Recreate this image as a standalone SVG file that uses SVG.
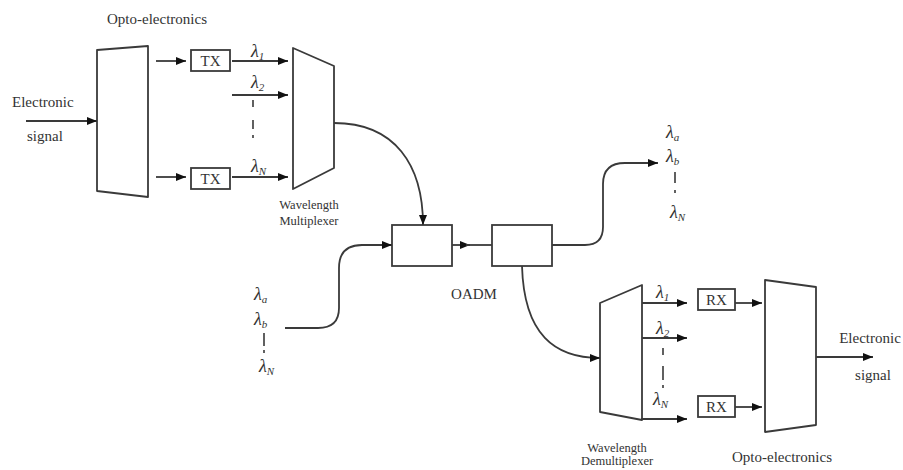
<svg xmlns="http://www.w3.org/2000/svg" width="903" height="470" viewBox="0 0 903 470">
<style>
  .shape { fill: none; stroke: #3a3a3a; stroke-width: 1.8; stroke-linejoin: round; }
  .box { fill: #fff; stroke: #3a3a3a; stroke-width: 1.8; }
  .con { fill: none; stroke: #3a3a3a; stroke-width: 1.8; }
  .dots { fill: none; stroke: #3a3a3a; stroke-width: 1.6; }
  .lbl { font-family: "Liberation Serif", "Times New Roman", serif; font-size: 15px; fill: #333; }
  .sm { font-family: "Liberation Serif", "Times New Roman", serif; font-size: 12.5px; fill: #333; }
  .lam { font-family: "Liberation Serif", "Times New Roman", serif; font-size: 18px; font-style: italic; fill: #333; }
  .sub { font-size: 11px; }
</style>
<defs>
  <marker id="arr" viewBox="0 0 10 8" refX="10" refY="4" markerWidth="10" markerHeight="8" markerUnits="userSpaceOnUse" orient="auto">
    <path d="M0,0 L10,4 L0,8 Z" fill="#111"/>
  </marker>
</defs>

<!-- Nodes -->
<g id="opto-tx">
  <polygon class="shape" points="97,50 148,46 148,197 97,191"/>
  <text class="lbl" x="157" y="24" text-anchor="middle">Opto-electronics</text>
</g>
<g id="tx1">
  <rect class="box" x="191" y="50" width="39" height="21"/>
  <text class="lbl" x="210.5" y="66" text-anchor="middle">TX</text>
</g>
<g id="tx2">
  <rect class="box" x="191" y="168" width="39" height="21"/>
  <text class="lbl" x="210.5" y="184" text-anchor="middle">TX</text>
</g>
<g id="mux">
  <polygon class="shape" points="293,48 334,66 334,168 293,189"/>
  <text class="sm" x="309" y="209" text-anchor="middle">Wavelength</text>
  <text class="sm" x="309" y="225" text-anchor="middle">Multiplexer</text>
</g>
<g id="oadm1">
  <rect class="box" x="392" y="225" width="60" height="41"/>
</g>
<g id="oadm2">
  <rect class="box" x="492" y="225" width="60" height="41"/>
  <text class="lbl" x="474" y="299" text-anchor="middle">OADM</text>
</g>
<g id="demux">
  <polygon class="shape" points="600,303 642,285 642,420 600,412"/>
  <text class="sm" x="617" y="452" text-anchor="middle">Wavelength</text>
  <text class="sm" x="617" y="465" text-anchor="middle">Demultiplexer</text>
</g>
<g id="rx1">
  <rect class="box" x="698" y="289" width="37" height="21"/>
  <text class="lbl" x="716.5" y="305" text-anchor="middle">RX</text>
</g>
<g id="rx2">
  <rect class="box" x="698" y="396" width="37" height="21"/>
  <text class="lbl" x="716.5" y="412" text-anchor="middle">RX</text>
</g>
<g id="opto-rx">
  <polygon class="shape" points="765,280 816,287 816,425 765,432"/>
  <text class="lbl" x="782" y="462" text-anchor="middle">Opto-electronics</text>
</g>

<!-- Connectors -->
<g id="connectors">
  <line class="con" x1="26" y1="121" x2="97" y2="121" marker-end="url(#arr)"/>
  <line class="con" x1="156" y1="61" x2="186" y2="61" marker-end="url(#arr)"/>
  <line class="con" x1="156" y1="177" x2="186" y2="177" marker-end="url(#arr)"/>
  <line class="con" x1="232" y1="61" x2="288" y2="61" marker-end="url(#arr)"/>
  <line class="con" x1="232" y1="95" x2="288" y2="95" marker-end="url(#arr)"/>
  <line class="con" x1="232" y1="177" x2="288" y2="177" marker-end="url(#arr)"/>
  <path class="con" d="M334,123 C395,123 423,165 423,225" marker-end="url(#arr)"/>
  <path class="con" d="M285,328 L318,328 Q339,328 339,308 L339,268 Q339,245 362,245 L392,245" marker-end="url(#arr)"/>
  <line class="con" x1="452" y1="245" x2="470" y2="245" marker-end="url(#arr)"/>
  <line class="con" x1="466" y1="245" x2="492" y2="245"/>
  <path class="con" d="M552,245 L585,245 Q603,245 603,227 L603,184 Q603,163 625,163 L658,163" marker-end="url(#arr)"/>
  <path class="con" d="M522,266 C524,335 555,358 600,358" marker-end="url(#arr)"/>
  <line class="con" x1="642" y1="303" x2="687" y2="303" marker-end="url(#arr)"/>
  <line class="con" x1="642" y1="338" x2="687" y2="338" marker-end="url(#arr)"/>
  <line class="con" x1="642" y1="419" x2="687" y2="419" marker-end="url(#arr)"/>
  <line class="con" x1="735" y1="303" x2="762" y2="303" marker-end="url(#arr)"/>
  <line class="con" x1="735" y1="407" x2="762" y2="407" marker-end="url(#arr)"/>
  <line class="con" x1="816" y1="357" x2="873" y2="357" marker-end="url(#arr)"/>
</g>

<!-- Labels -->
<g id="labels">
  <text class="lbl" x="12" y="107">Electronic</text>
  <text class="lbl" x="27" y="141">signal</text>
  <text class="lbl" x="870" y="343" text-anchor="middle">Electronic</text>
  <text class="lbl" x="873" y="380" text-anchor="middle">signal</text>

  <text class="lam" x="251" y="57">λ<tspan class="sub" dy="3">1</tspan></text>
  <text class="lam" x="251" y="88">λ<tspan class="sub" dy="3">2</tspan></text>
  <path class="dots" d="M253,100 V107 M253,120 V129 M253,135 V138"/>
  <text class="lam" x="251" y="172">λ<tspan class="sub" dy="3">N</tspan></text>

  <text class="lam" x="254" y="300">λ<tspan class="sub" dy="3">a</tspan></text>
  <text class="lam" x="254" y="325">λ<tspan class="sub" dy="3">b</tspan></text>
  <path class="dots" d="M264,333 V346 M264,350 V353"/>
  <text class="lam" x="259" y="372">λ<tspan class="sub" dy="3">N</tspan></text>

  <text class="lam" x="666" y="138">λ<tspan class="sub" dy="3">a</tspan></text>
  <text class="lam" x="666" y="162">λ<tspan class="sub" dy="3">b</tspan></text>
  <path class="dots" d="M675,172 V183 M675,190 V193"/>
  <text class="lam" x="670" y="218">λ<tspan class="sub" dy="3">N</tspan></text>

  <text class="lam" x="656" y="298">λ<tspan class="sub" dy="3">1</tspan></text>
  <text class="lam" x="656" y="334">λ<tspan class="sub" dy="3">2</tspan></text>
  <path class="dots" d="M663,348 V355 M663,366 V380 M663,385 V388"/>
  <text class="lam" x="653" y="405">λ<tspan class="sub" dy="3">N</tspan></text>
</g>
</svg>
